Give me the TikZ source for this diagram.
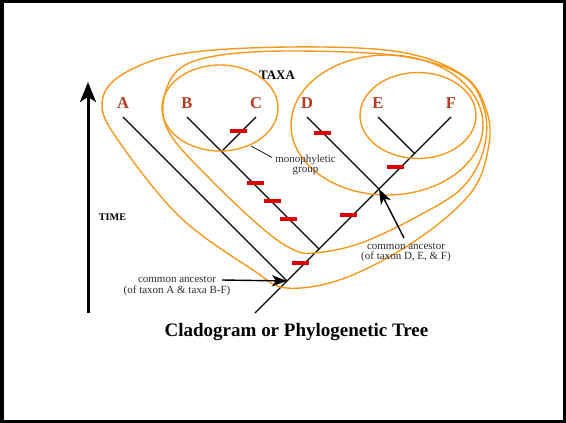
\documentclass[tikz,border=0pt]{standalone}
\usepackage{fontspec}
\setmainfont{Liberation Serif}
\usepackage{tikz}
\usetikzlibrary{arrows.meta,calc,positioning}
\definecolor{cladeOrange}{RGB}{247,152,29}
\definecolor{taxonRed}{RGB}{178,58,30}
\definecolor{traitRed}{RGB}{225,0,0}
\definecolor{noteGray}{RGB}{45,45,45}

\begin{document}
\begin{tikzpicture}[
  x=1pt, y=-1pt,
  branch/.style={line width=1.2pt, black},
  clade/.style={draw=cladeOrange, line width=1.4pt},
  synapo/.style={fill=traitRed, minimum width=17pt, minimum height=4pt, inner sep=0pt},
  taxon/.style={font=\fontsize{16.5}{18}\selectfont\bfseries, text=taxonRed, anchor=base, inner sep=0pt},
  heading/.style={font=\bfseries, anchor=base, inner sep=0pt},
  note/.style={font=\fontsize{11}{10.6}\selectfont, text=noteGray, align=center, inner sep=0pt},
  pointer/.style={-{Stealth[length=15pt, width=11pt, inset=4pt]}, line width=1.4pt},
  timeaxis/.style={-{Stealth[length=20pt, width=16pt, inset=5pt]}, line width=3pt},
  leader/.style={line width=0.7pt, black}
]
  \useasboundingbox (0,0) rectangle (566,423);
  \draw[line width=3pt] (2,1.5) rectangle (564.5,421.5);

  % taxa
  \node[taxon] (A) at (123,108) {A};
  \node[taxon] (B) at (187,108) {B};
  \node[taxon] (C) at (256,108) {C};
  \node[taxon] (D) at (307,108) {D};
  \node[taxon] (E) at (378,108) {E};
  \node[taxon] (F) at (451,108) {F};
  \node[heading, font=\fontsize{13}{15}\selectfont\bfseries] (taxa) at (277,79) {TAXA};

  % tree
  \coordinate (tA) at (123,117);
  \coordinate (tB) at (187,117);
  \coordinate (tC) at (256,117);
  \coordinate (tD) at (307,117);
  \coordinate (tE) at (378,117);
  \coordinate (tF) at (451,117);
  \coordinate (root) at (255,313);
  \coordinate (jA) at (287,281);
  \coordinate (jB) at (319,249);
  \coordinate (jC) at (221.5,151.5);
  \coordinate (jD) at (379,189);
  \coordinate (jE) at (414.5,153.5);

  \draw[branch] (root) -- (tF);
  \draw[branch] (tA) -- (jA);
  \draw[branch] (tB) -- (jB);
  \draw[branch] (tC) -- (jC);
  \draw[branch] (tD) -- (jD);
  \draw[branch] (tE) -- (jE);

  % shared traits
  \foreach \n/\p in {1/{(238,131)}, 2/{(322,133)}, 3/{(395,167)}, 4/{(255,183)},
                     5/{(272,201)}, 6/{(288,219)}, 7/{(348,215)}, 8/{(300,263)}}
    \node[synapo] (bar\n) at \p {};

  % clades
  \draw[clade] (220,108) ellipse [x radius=58, y radius=43];
  \draw[clade] (418,115.5) ellipse [x radius=58, y radius=43];
  \draw[clade] (387,125) ellipse [x radius=96, y radius=70];
  \draw[clade] plot[smooth cycle, tension=0.6] coordinates {
    (163,105) (172,137) (213,182) (262,228) (292,249) (314,253) (361,243)
    (420,215) (462,188) (483,152) (485,112) (463,76) (400,56) (290,51) (215,56) (177,71)};
  \draw[clade] plot[smooth cycle, tension=0.6] coordinates {
    (102,105) (120,143) (180,217) (253,270) (287,288) (345,278) (415,241)
    (470,194) (488,150) (487,112) (464,76) (400,52) (290,47) (180,54) (120,76)};

  % time
  \coordinate (timeBase) at (88,313);
  \coordinate (timeTip) at (88,82);
  \draw[timeaxis] (timeBase) -- (timeTip);
  \node[heading, font=\fontsize{10.2}{12}\selectfont\bfseries] (time) at (112.5,220.5) {TIME};

  % notes
  \node[note] (mono) at (305.5,165) {monophyletic\\group};
  \coordinate (bcEdge) at (251,146);
  \draw[leader] (bcEdge) -- ([xshift=-3pt, yshift=-3pt]mono.north west);

  \node[note] (ancA) at (177,286) {common ancestor\\(of taxon A \& taxa B-F)};
  \coordinate (ancAfrom) at (222,280);
  \draw[pointer] (ancAfrom) -- (jA);

  \node[note] (ancD) at (406,252.5) {common ancestor\\(of taxon D, E, \& F)};
  \coordinate (ancDfrom) at (404,238);
  \draw[pointer] (ancDfrom) -- (jD);

  \node[heading, font=\fontsize{19}{22}\selectfont\bfseries] (title) at (296.5,336) {Cladogram or Phylogenetic Tree};
\end{tikzpicture}
\end{document}
